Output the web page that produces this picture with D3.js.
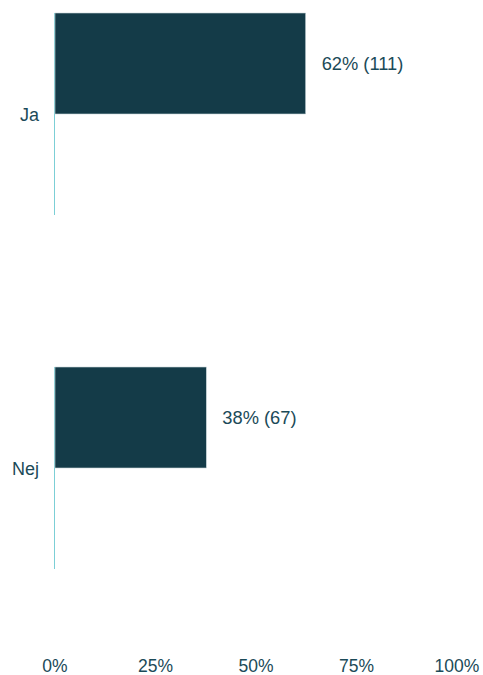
<!DOCTYPE html>
<html>
<head>
<meta charset="utf-8">
<script src="https://cdn.jsdelivr.net/npm/d3@7"></script>
<style>
html,body{margin:0;padding:0;background:#fff;}
svg{display:block;}
text{font-family:"Liberation Sans",Arial,sans-serif;fill:#1b4a58;}
</style>
</head>
<body>
<svg id="chart" width="483" height="675"></svg>
<script>
const categories = ["Ja", "Nej"];
const counts = [111, 67];
const percentLabels = ["62%", "38%"];
const tickValues = [0, 0.25, 0.5, 0.75, 1];
const tickLabels = ["0%", "25%", "50%", "75%", "100%"];

const total = d3.sum(counts);
const data = categories.map((c, i) => ({cat: c, n: counts[i], p: counts[i] / total, lab: percentLabels[i]}));

const svg = d3.select("#chart");
const x = d3.scaleLinear().domain([0, 1]).range([55, 457]);
const y = d3.scaleBand().domain(categories).range([13, 569]).paddingInner(0.4294).paddingOuter(0);

// axis line segments per band
svg.append("g").selectAll("line").data(data).join("line")
  .attr("x1", 54.5).attr("x2", 54.5)
  .attr("y1", d => y(d.cat)).attr("y2", d => y(d.cat) + y.bandwidth())
  .attr("stroke", "#7ccfd6").attr("stroke-width", 1);

// bars
svg.append("g").selectAll("rect").data(data).join("rect")
  .attr("x", x(0))
  .attr("y", d => y(d.cat))
  .attr("width", d => x(d.p) - x(0))
  .attr("height", y.bandwidth() / 2)
  .attr("fill", "#143b48")
  .attr("stroke", "#c9d6da").attr("stroke-width", 0.6);

// value labels
svg.append("g").selectAll("text").data(data).join("text")
  .attr("x", d => x(d.p) + 16)
  .attr("y", d => y(d.cat) + y.bandwidth() / 4)
  .attr("dy", "0.38em")
  .attr("font-size", 18.3)
  .text(d => `${d.lab} (${d.n})`);

// category labels
svg.append("g").selectAll("text").data(data).join("text")
  .attr("x", 39)
  .attr("y", d => y(d.cat) + y.bandwidth() / 2)
  .attr("dy", "0.38em")
  .attr("text-anchor", "end")
  .attr("font-size", 18)
  .text(d => d.cat);

// x tick labels
svg.append("g").selectAll("text").data(tickValues).join("text")
  .attr("x", d => x(d))
  .attr("y", 672)
  .attr("text-anchor", "middle")
  .attr("font-size", 17.5)
  .text((d, i) => tickLabels[i]);
</script>
</body>
</html>
